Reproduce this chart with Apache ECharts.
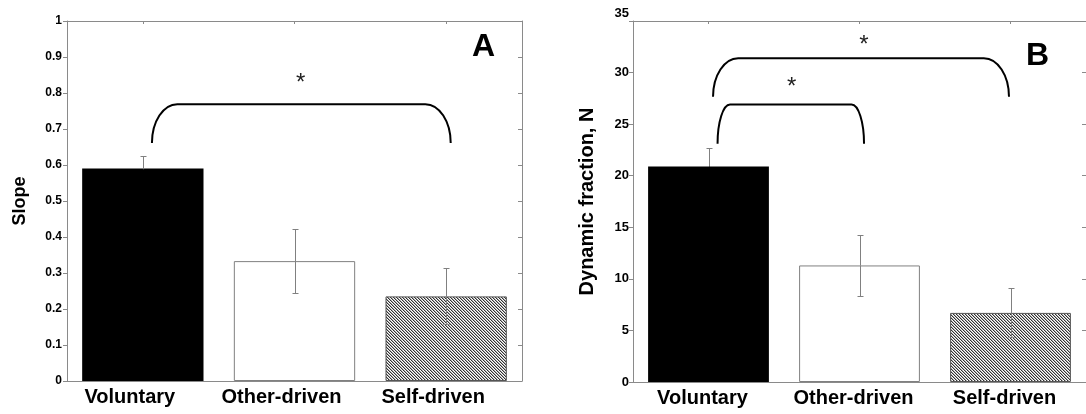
<!DOCTYPE html>
<html><head><meta charset="utf-8">
<script src="https://cdn.jsdelivr.net/npm/echarts@6/dist/echarts.min.js"></script>
<style>html,body{margin:0;padding:0;background:#fff}#c{width:1086px;height:414px}</style>
</head><body><div id="c"></div>
<script>
// ---- data ----
const categories = ['Voluntary', 'Other-driven', 'Self-driven'];
const categoryIndex = [0, 1, 2];
const slopeMeans = [0.59, 0.333, 0.235];
const slopeErrors = [0.036, 0.089, 0.078];
const forceMeans = [20.9, 11.3, 6.7];
const forceErrors = [1.8, 3.0, 2.37];
const slopeAxisRange = [0, 1, 0.1];   // min, max, interval
const forceAxisRange = [0, 35, 5];
// significance brackets: [xStart, xEnd, yEnds, yTop] (x in category index units)
const slopeBrackets = [[0.06, 2.03, 0.661, 0.769]];
const forceBrackets = [[0.06, 1.03, 23.1, 26.9], [0.03, 1.99, 27.65, 31.4]];
// significance stars: [x, y]
const slopeStars = [[1.04, 0.844]];
const forceStars = [[0.55, 29.1], [1.03, 33.2]];
const panelLetters = ['A', 'B'];

// ---- styling ----
const FONT = 'Liberation Sans, Arial, Helvetica, sans-serif';
const AXIS_GRAY = '#8a8a8a';
const ERR_GRAY = '#808080';

function hatchCanvas() {
  const n = 6;
  const c = document.createElement('canvas'); c.width = n; c.height = n;
  const ctx = c.getContext('2d');
  const img = ctx.createImageData(n, n);
  const shades = [50, 175, 255];
  for (let y = 0; y < n; y++) for (let x = 0; x < n; x++) {
    const v = shades[((x - y) % 3 + 3) % 3];
    const i = (y * n + x) * 4;
    img.data[i] = img.data[i + 1] = img.data[i + 2] = v; img.data[i + 3] = 255;
  }
  ctx.putImageData(img, 0, 0);
  return c;
}
const barStyles = [
  { color: '#000', borderColor: '#000', borderWidth: 0 },
  { color: '#fff', borderColor: '#808080', borderWidth: 1 },
  { color: { image: hatchCanvas(), repeat: 'repeat' }, borderColor: '#555', borderWidth: 1 }
];
// lower half of the error bar blends into a solid black bar
const lowerErrColor = ['#000', ERR_GRAY, ERR_GRAY];

function errorRender(params, api) {
  const x = api.value(0), m = api.value(1), e = api.value(2);
  const top = api.coord([x, m + e]), mid = api.coord([x, m]), bot = api.coord([x, m - e]);
  const cx = Math.round(top[0]) + 0.5, ty = Math.round(top[1]) + 0.5,
        my = Math.round(mid[1]) + 0.5, by = Math.round(bot[1]) + 0.5;
  const w = 3, st = { stroke: ERR_GRAY, lineWidth: 1 };
  const lo = { stroke: lowerErrColor[params.dataIndex], lineWidth: 1 };
  return { type: 'group', children: [
    { type: 'line', shape: { x1: cx, y1: ty, x2: cx, y2: my }, style: st },
    { type: 'line', shape: { x1: cx, y1: my, x2: cx, y2: by }, style: lo },
    { type: 'line', shape: { x1: cx - w, y1: ty, x2: cx + w, y2: ty }, style: st },
    { type: 'line', shape: { x1: cx - w, y1: by, x2: cx + w, y2: by }, style: lo }
  ] };
}
function bracketRender(params, api) {
  const x1v = api.value(0), x2v = api.value(1), yb = api.value(2), yt = api.value(3);
  const p1 = api.coord([x1v, yb]), p2 = api.coord([x2v, yb]), t = api.coord([x1v, yt]);
  const x1 = p1[0], x2 = p2[0], b = p1[1], tp = t[1];
  const rx = (x2 - x1) * 0.085, ry = b - tp, k = 0.5523;
  const d = `M${x1},${b} C${x1},${b - ry * k} ${x1 + rx - rx * k},${tp} ${x1 + rx},${tp} ` +
            `L${x2 - rx},${tp} C${x2 - rx + rx * k},${tp} ${x2},${b - ry * k} ${x2},${b}`;
  return { type: 'path', shape: { pathData: d }, style: { fill: 'none', stroke: '#000', lineWidth: 2 } };
}
function starRender(params, api) {
  const p = api.coord([api.value(0), api.value(1)]);
  return { type: 'text', x: p[0], y: p[1] + 6,
    style: { text: '*', font: '24px ' + FONT, align: 'center', verticalAlign: 'middle', fill: '#222' } };
}

function frameAxes(gridIndex, range, labelSize, labelMargin, name, nameSize, nameGap, labelShift) {
  const line = { show: true, onZero: false, lineStyle: { color: AXIS_GRAY, width: 1 } };
  return {
    x: [
      { type: 'category', gridIndex, data: categories, position: 'bottom',
        axisLine: line, axisTick: { show: false },
        axisLabel: { interval: 0, color: '#000', fontSize: 20, fontWeight: 'bold', fontFamily: FONT, margin: 6,
          padding: labelShift } },
      { type: 'value', gridIndex, position: 'top', min: -0.5, max: 2.5,
        axisLine: line,
        axisTick: { show: true, inside: true, length: 3, customValues: categoryIndex, lineStyle: { color: AXIS_GRAY } },
        axisLabel: { show: false }, splitLine: { show: false } }
    ],
    y: [
      { type: 'value', gridIndex, position: 'left', min: range[0], max: range[1], interval: range[2],
        name, nameLocation: 'middle', nameGap,
        nameTextStyle: { color: '#000', fontSize: nameSize, fontWeight: 'bold', fontFamily: FONT },
        axisLine: line,
        axisTick: { show: true, inside: false, length: 4, lineStyle: { color: AXIS_GRAY } },
        splitLine: { show: false },
        axisLabel: { color: '#000', fontSize: labelSize, fontWeight: 'bold', fontFamily: FONT, margin: labelMargin,
          formatter: v => (v === 35 ? '{top|35}' : String(v)),
          rich: { top: { fontSize: labelSize, fontWeight: 'bold', fontFamily: FONT, color: '#000', padding: [0, 0, 16, 0] } } } },
      { type: 'value', gridIndex, position: 'right', min: range[0], max: range[1], interval: range[2],
        axisLine: line,
        axisTick: { show: true, inside: true, length: 4, lineStyle: { color: AXIS_GRAY } },
        splitLine: { show: false }, axisLabel: { show: false } }
    ]
  };
}
const a0 = frameAxes(0, slopeAxisRange, 12, 5, 'Slope', 18, 38, [0, 26, 0, 0]);
const a1 = frameAxes(1, forceAxisRange, 13, 4, 'Dynamic fraction, N', 20, 36, [0, 12, 0, 0]);

function panelSeries(xBase, yBase, means, errs, brackets, stars) {
  return [
    { type: 'bar', xAxisIndex: xBase, yAxisIndex: yBase, barWidth: '80%', silent: true,
      data: means.map((v, i) => ({ value: v, itemStyle: barStyles[i] })), z: 2 },
    { type: 'custom', xAxisIndex: xBase + 1, yAxisIndex: yBase, renderItem: errorRender, silent: true, z: 3,
      data: means.map((v, i) => [categoryIndex[i], v, errs[i]]) },
    { type: 'custom', xAxisIndex: xBase + 1, yAxisIndex: yBase, renderItem: bracketRender, silent: true, z: 4,
      data: brackets },
    { type: 'custom', xAxisIndex: xBase + 1, yAxisIndex: yBase, renderItem: starRender, silent: true, z: 4,
      data: stars }
  ];
}

const chart = echarts.init(document.getElementById('c'), null, { renderer: 'canvas' });
chart.setOption({
  animation: false,
  backgroundColor: '#fff',
  title: [
    { text: panelLetters[0], left: 467, top: 26, textStyle: { fontSize: 32, fontWeight: 'bold', fontFamily: FONT, color: '#000' } },
    { text: panelLetters[1], left: 1021, top: 35, textStyle: { fontSize: 32, fontWeight: 'bold', fontFamily: FONT, color: '#000' } }
  ],
  grid: [
    { left: 67, top: 21, width: 455, height: 360 },
    { left: 633, top: 21, width: 456, height: 361 }
  ],
  xAxis: a0.x.concat(a1.x),
  yAxis: a0.y.concat(a1.y),
  series: panelSeries(0, 0, slopeMeans, slopeErrors, slopeBrackets, slopeStars)
    .concat(panelSeries(2, 2, forceMeans, forceErrors, forceBrackets, forceStars))
});
</script></body></html>
